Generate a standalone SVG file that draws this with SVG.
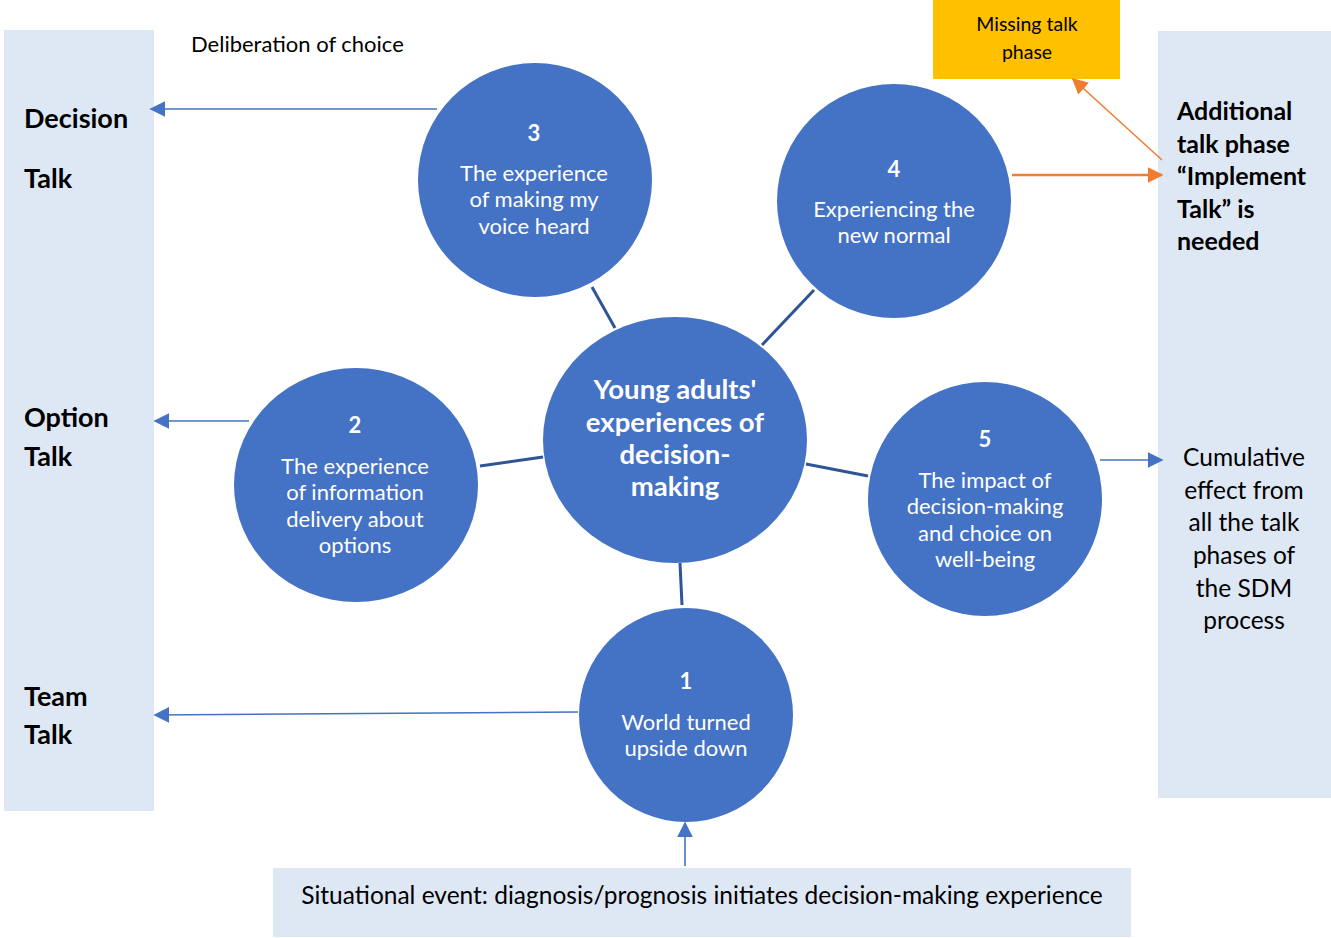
<svg xmlns="http://www.w3.org/2000/svg" width="1331" height="938" viewBox="0 0 1331 938">
<defs>
<style>
text{font-family:Lato,"Open Sans","Liberation Sans",sans-serif;}
.panel{fill:#DEE8F4;}
.node{fill:#4472C4;}
.ct{fill:#fff;font-size:22px;text-anchor:middle;}
.cn{fill:#fff;font-size:22px;font-weight:bold;text-anchor:middle;}
.lab{fill:#000;font-size:27px;font-weight:bold;}
.spoke{stroke:#2F5597;stroke-width:3;}
.arr{stroke:#4472C4;stroke-width:1.6;fill:none;}
.oarr{stroke:#ED7D31;fill:none;}
</style>
<marker id="abl" viewBox="0 0 10 10" refX="9" refY="5" markerWidth="16" markerHeight="16" markerUnits="userSpaceOnUse" orient="auto"><path d="M0,0 L10,5 L0,10 Z" fill="#4472C4"/></marker>
<marker id="ao" viewBox="0 0 10 10" refX="9" refY="5" markerWidth="16" markerHeight="16" markerUnits="userSpaceOnUse" orient="auto"><path d="M0,0 L10,5 L0,10 Z" fill="#ED7D31"/></marker>
</defs>
<rect width="1331" height="938" fill="#fff"/>

<g id="left-panel">
<rect class="panel" x="4" y="30" width="150" height="781"/>
<text class="lab" x="24" y="128">Decision</text>
<text class="lab" x="24" y="188">Talk</text>
<text class="lab" x="24" y="427">Option</text>
<text class="lab" x="24" y="466">Talk</text>
<text class="lab" x="24" y="706">Team</text>
<text class="lab" x="24" y="744">Talk</text>
</g>

<g id="right-panel">
<rect class="panel" x="1158" y="31" width="173" height="767"/>
<g style="font-size:25px;font-weight:bold;fill:#000">
<text x="1177" y="120">Additional</text>
<text x="1177" y="153">talk phase</text>
<text x="1177" y="185">“Implement</text>
<text x="1177" y="218">Talk” is</text>
<text x="1177" y="250">needed</text>
</g>
<g style="font-size:24.5px;fill:#000;text-anchor:middle">
<text x="1244" y="466">Cumulative</text>
<text x="1244" y="499">effect from</text>
<text x="1244" y="531">all the talk</text>
<text x="1244" y="564">phases of</text>
<text x="1244" y="597">the SDM</text>
<text x="1244" y="629">process</text>
</g>
</g>

<g id="missing">
<rect x="933" y="0" width="187" height="79" fill="#FFC000"/>
<text x="1027" y="31" style="font-size:19.5px;text-anchor:middle;fill:#000">Missing talk</text>
<text x="1027" y="59" style="font-size:19.5px;text-anchor:middle;fill:#000">phase</text>
</g>

<g id="deliberation">
<text x="191" y="52" style="font-size:22px;fill:#000">Deliberation of choice</text>
</g>

<g id="event">
<rect class="panel" x="273" y="868" width="858" height="69"/>
<text x="702" y="904" style="font-size:24.5px;fill:#000;text-anchor:middle">Situational event: diagnosis/prognosis initiates decision-making experience</text>
</g>

<g id="connectors">
<line class="spoke" x1="592" y1="287" x2="615" y2="328"/>
<line class="spoke" x1="814" y1="290" x2="762" y2="345"/>
<line class="spoke" x1="480" y1="466" x2="543" y2="457"/>
<line class="spoke" x1="806" y1="464" x2="868" y2="476"/>
<line class="spoke" x1="680" y1="563" x2="682" y2="605"/>
<line class="arr" x1="437" y1="109" x2="151" y2="109" marker-end="url(#abl)"/>
<line class="arr" x1="249" y1="421" x2="155" y2="421" marker-end="url(#abl)"/>
<line class="arr" x1="578" y1="712" x2="155" y2="715" marker-end="url(#abl)"/>
<line class="arr" x1="1100" y1="460" x2="1162" y2="460" marker-end="url(#abl)"/>
<line class="arr" x1="685" y1="866" x2="685" y2="823" marker-end="url(#abl)"/>
<line class="oarr" stroke-width="2.5" x1="1012" y1="175" x2="1162" y2="175" marker-end="url(#ao)"/>
<line class="oarr" stroke-width="1.5" x1="1162" y1="160" x2="1073" y2="79" marker-end="url(#ao)"/>
</g>

<g id="n3">
<circle class="node" cx="535" cy="180" r="117"/>
<text class="cn" x="534" y="141">3</text>
<text class="ct" x="534" y="181">The experience</text>
<text class="ct" x="534" y="207">of making my</text>
<text class="ct" x="534" y="234">voice heard</text>
</g>
<g id="n4">
<circle class="node" cx="894" cy="201" r="117"/>
<text class="cn" x="894" y="177">4</text>
<text class="ct" x="894" y="217">Experiencing the</text>
<text class="ct" x="894" y="243">new normal</text>
</g>
<g id="n2">
<ellipse class="node" cx="356" cy="485" rx="122" ry="117"/>
<text class="cn" x="355" y="433">2</text>
<text class="ct" x="355" y="474">The experience</text>
<text class="ct" x="355" y="500">of information</text>
<text class="ct" x="355" y="527">delivery about</text>
<text class="ct" x="355" y="553">options</text>
</g>
<g id="n5">
<circle class="node" cx="985" cy="499" r="117"/>
<text class="cn" x="985" y="447">5</text>
<text class="ct" x="985" y="488">The impact of</text>
<text class="ct" x="985" y="514">decision-making</text>
<text class="ct" x="985" y="541">and choice on</text>
<text class="ct" x="985" y="567">well-being</text>
</g>
<g id="n1">
<circle class="node" cx="686" cy="715" r="107"/>
<text class="cn" x="686" y="689">1</text>
<text class="ct" x="686" y="730">World turned</text>
<text class="ct" x="686" y="756">upside down</text>
</g>
<g id="center">
<ellipse class="node" cx="675" cy="440" rx="132" ry="123"/>
<g style="fill:#fff;font-size:27.5px;font-weight:bold;text-anchor:middle">
<text x="675" y="399">Young adults'</text>
<text x="675" y="432">experiences of</text>
<text x="675" y="464">decision-</text>
<text x="675" y="496">making</text>
</g>
</g>
</svg>
